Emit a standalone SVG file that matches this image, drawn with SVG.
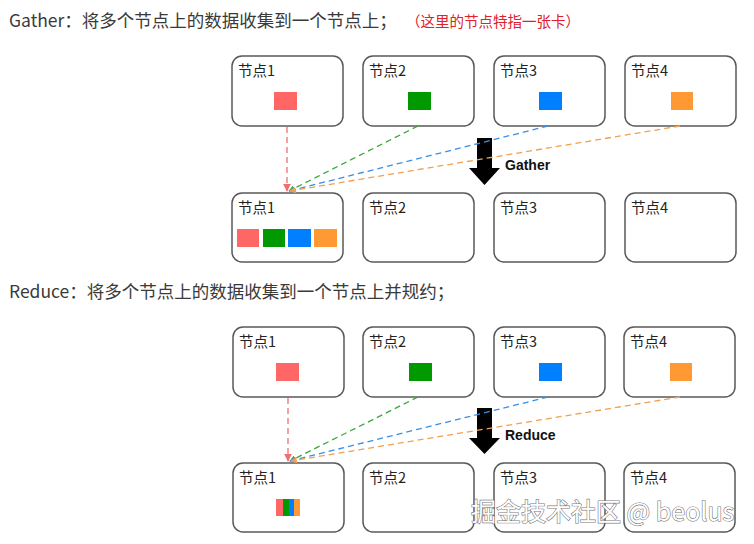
<svg xmlns="http://www.w3.org/2000/svg" width="754" height="544" viewBox="0 0 754 544">
<style>
.hdr{font-family:"Noto Sans CJK SC","Noto Sans",sans-serif;font-size:17.5px;fill:#3a3a3a}
.note{font-family:"Noto Sans CJK SC","Noto Sans",sans-serif;font-size:14.5px;fill:#e0202a}
.box{fill:#fff;stroke:#595959;stroke-width:1.5}
.lbl{font-family:"Noto Sans CJK SC","Noto Sans",sans-serif;font-size:14.5px;fill:#222}
.op{font-family:"Liberation Sans",Arial,sans-serif;font-size:14px;font-weight:bold;fill:#111}
.ln{fill:none;stroke-width:1.3;stroke-dasharray:6 4}
.wm{font-family:"Noto Sans CJK SC","Noto Sans",sans-serif;font-size:25px;fill:#fff;stroke:#7a7a7a;stroke-width:1.2;paint-order:stroke}
</style>
<defs>
<marker id="mr" viewBox="0 0 10 10" refX="9" refY="5" markerWidth="6" markerHeight="6" orient="auto"><path d="M0,0L10,5L0,10z" fill="#f07070"/></marker>
<marker id="mg" viewBox="0 0 10 10" refX="9" refY="5" markerWidth="5" markerHeight="5" orient="auto"><path d="M0,0L10,5L0,10z" fill="#3aa83a"/></marker>
<marker id="mb" viewBox="0 0 10 10" refX="9" refY="5" markerWidth="5" markerHeight="5" orient="auto"><path d="M0,0L10,5L0,10z" fill="#3a8ee6"/></marker>
<marker id="mo" viewBox="0 0 10 10" refX="9" refY="5" markerWidth="5" markerHeight="5" orient="auto"><path d="M0,0L10,5L0,10z" fill="#f0a050"/></marker>
</defs>
<rect width="754" height="544" fill="#fff"/>

<text class="hdr" x="9" y="27">Gather：将多个节点上的数据收集到一个节点上；</text>
<text class="note" x="406" y="27">（这里的节点特指一张卡）</text>
<text class="hdr" x="9" y="298">Reduce：将多个节点上的数据收集到一个节点上并规约；</text>

<!-- Gather section -->
<g id="g-src1"><rect class="box" x="232" y="56" width="111" height="70" rx="10"/><text class="lbl" x="238" y="76">节点1</text><rect x="274" y="92" width="23" height="18" fill="#ff6666"/></g>
<g id="g-src2"><rect class="box" x="363" y="56" width="111" height="70" rx="10"/><text class="lbl" x="369" y="76">节点2</text><rect x="408" y="92" width="23" height="18" fill="#009900"/></g>
<g id="g-src3"><rect class="box" x="494" y="56" width="111" height="70" rx="10"/><text class="lbl" x="500" y="76">节点3</text><rect x="539" y="92" width="23" height="18" fill="#0080ff"/></g>
<g id="g-src4"><rect class="box" x="625" y="56" width="111" height="70" rx="10"/><text class="lbl" x="631" y="76">节点4</text><rect x="671" y="92" width="22" height="18" fill="#ff9933"/></g>

<g id="g-dst1"><rect class="box" x="232" y="193" width="111" height="69" rx="10"/><text class="lbl" x="238" y="213">节点1</text>
<rect x="237" y="229" width="22" height="18" fill="#ff6666"/><rect x="263" y="229" width="22" height="18" fill="#009900"/><rect x="288" y="229" width="23" height="18" fill="#0080ff"/><rect x="314" y="229" width="23" height="18" fill="#ff9933"/></g>
<g id="g-dst2"><rect class="box" x="363" y="193" width="111" height="69" rx="10"/><text class="lbl" x="369" y="213">节点2</text></g>
<g id="g-dst3"><rect class="box" x="494" y="193" width="111" height="69" rx="10"/><text class="lbl" x="500" y="213">节点3</text></g>
<g id="g-dst4"><rect class="box" x="625" y="193" width="111" height="69" rx="10"/><text class="lbl" x="631" y="213">节点4</text></g>

<g id="g-op"><path d="M477,138H492V168H500L484.5,185L469,168H477Z" fill="#000"/><text class="op" x="505" y="170">Gather</text></g>

<!-- Reduce section -->
<g id="r-src1"><rect class="box" x="233" y="327" width="111" height="70" rx="10"/><text class="lbl" x="239" y="347">节点1</text><rect x="276" y="363" width="23" height="18" fill="#ff6666"/></g>
<g id="r-src2"><rect class="box" x="363" y="327" width="111" height="70" rx="10"/><text class="lbl" x="369" y="347">节点2</text><rect x="409" y="363" width="23" height="18" fill="#009900"/></g>
<g id="r-src3"><rect class="box" x="494" y="327" width="111" height="70" rx="10"/><text class="lbl" x="500" y="347">节点3</text><rect x="539" y="363" width="23" height="18" fill="#0080ff"/></g>
<g id="r-src4"><rect class="box" x="624" y="327" width="111" height="70" rx="10"/><text class="lbl" x="630" y="347">节点4</text><rect x="670" y="363" width="22" height="18" fill="#ff9933"/></g>

<g id="r-dst1"><rect class="box" x="233" y="463" width="111" height="69" rx="10"/><text class="lbl" x="239" y="483">节点1</text>
<rect x="276" y="499" width="7" height="17" fill="#ff6666"/><rect x="283" y="499" width="6" height="17" fill="#009900"/><rect x="289" y="499" width="5" height="17" fill="#0080ff"/><rect x="294" y="499" width="6" height="17" fill="#ff9933"/></g>
<g id="r-dst2"><rect class="box" x="363" y="463" width="111" height="69" rx="10"/><text class="lbl" x="369" y="483">节点2</text></g>
<g id="r-dst3"><rect class="box" x="494" y="463" width="111" height="69" rx="10"/><text class="lbl" x="500" y="483">节点3</text></g>
<g id="r-dst4"><rect class="box" x="624" y="463" width="111" height="69" rx="10"/><text class="lbl" x="630" y="483">节点4</text></g>

<g id="r-op"><path d="M477,408H492V438H500L484.5,454L469,438H477Z" fill="#000"/><text class="op" x="505" y="440">Reduce</text></g>

<g id="connectors">
<line class="ln" x1="287" y1="127" x2="287" y2="191" stroke="#f07070" marker-end="url(#mr)"/>
<line class="ln" x1="418" y1="126" x2="289" y2="191" stroke="#3aa83a" marker-end="url(#mg)"/>
<line class="ln" x1="548" y1="126" x2="289" y2="191" stroke="#3a8ee6" marker-end="url(#mb)"/>
<line class="ln" x1="680" y1="126" x2="290" y2="191" stroke="#f0a050" marker-end="url(#mo)"/>
<line class="ln" x1="288" y1="398" x2="288" y2="461" stroke="#f07070" marker-end="url(#mr)"/>
<line class="ln" x1="418" y1="397" x2="290" y2="461" stroke="#3aa83a" marker-end="url(#mg)"/>
<line class="ln" x1="548" y1="397" x2="290" y2="461" stroke="#3a8ee6" marker-end="url(#mb)"/>
<line class="ln" x1="680" y1="397" x2="291" y2="461" stroke="#f0a050" marker-end="url(#mo)"/>
</g>

<text class="wm" x="471" y="521">掘金技术社区 @ beolus</text>
</svg>
